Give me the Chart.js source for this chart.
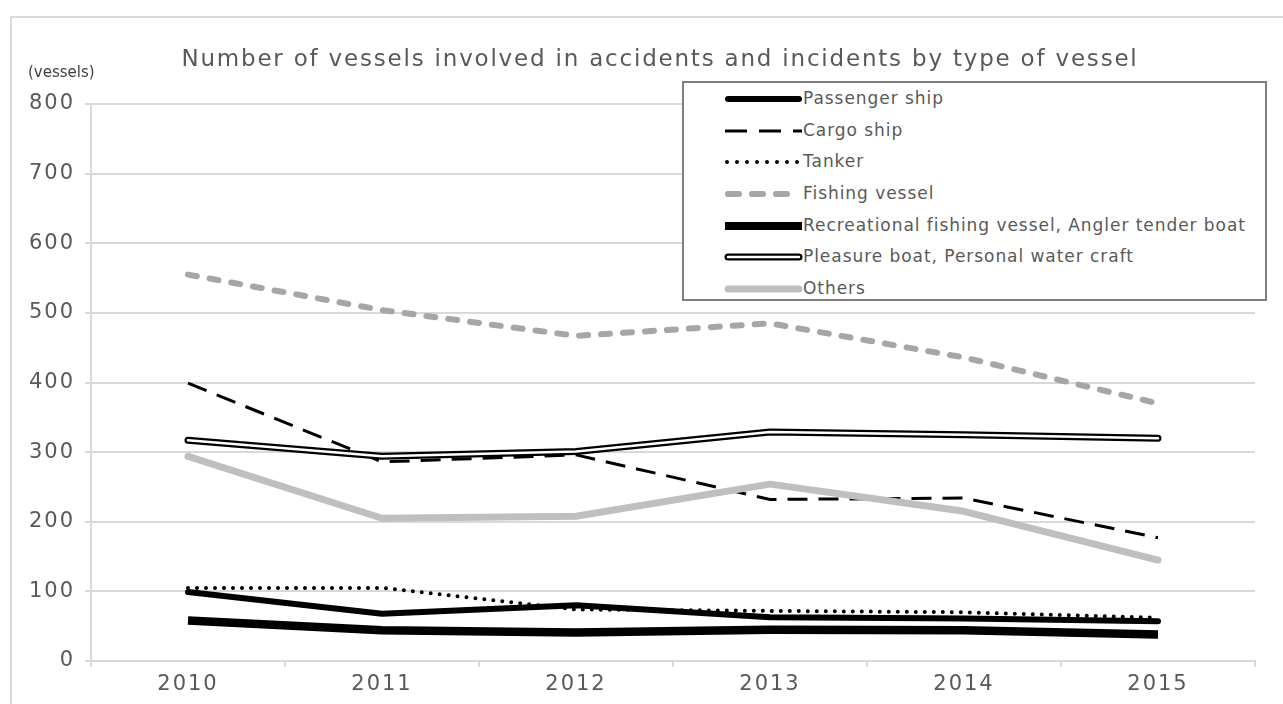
<!DOCTYPE html>
<html>
<head>
<meta charset="utf-8">
<script src="https://cdn.jsdelivr.net/npm/chart.js@4.4.1/dist/chart.umd.min.js"></script>
<style>
  html, body { margin: 0; padding: 0; background: #fff; }
  #wrap { position: relative; width: 1283px; height: 704px; overflow: hidden; font-family: "DejaVu Sans", sans-serif; }
  #frame { position: absolute; left: 10px; top: 16px; width: 1300px; height: 720px; border: 2px solid #d9d9d9; box-sizing: border-box; }
  #title { position: absolute; left: 0; width: 1320px; top: 45px; text-align: center; font-size: 23px; letter-spacing: 1.8px; color: #595959; white-space: nowrap; }
  #unit { position: absolute; left: 28px; top: 63px; font-size: 15px; color: #404040; white-space: nowrap; }
  #legend { position: absolute; left: 682px; top: 81px; width: 585px; height: 220px; border: 2px solid #7f7f7f; box-sizing: border-box; background: #fff; }
  .row { position: absolute; left: 0; height: 24px; }
  .row svg { position: absolute; left: 38px; top: 0; }
  .row span { position: absolute; left: 119px; top: 1px; font-size: 17px; letter-spacing: 0.95px; color: #595959; white-space: nowrap; }
  canvas { position: absolute; left: 0; top: 0; }
</style>
</head>
<body>
<div id="wrap">
  <div id="frame"></div>
  <canvas id="c" width="1283" height="704"></canvas>
  <div id="title">Number of vessels involved in accidents and incidents by type of vessel</div>
  <div id="unit">(vessels)</div>
  <div id="legend"></div>
</div>
<script>
const years = ["2010", "2011", "2012", "2013", "2014", "2015"];
const yTicks = [0, 100, 200, 300, 400, 500, 600, 700, 800];

const passengerShip   = [99, 68, 80, 63, 61, 57];
const cargoShip       = [399, 286, 296, 232, 234, 177];
const tanker          = [105, 105, 74, 72, 70, 62];
const fishingVessel   = [555, 504, 467, 485, 436, 370];
const recreational    = [58, 44, 41, 45, 44, 38];
const pleasureBoat    = [317, 294, 301, 329, 325, 320];
const others          = [294, 205, 208, 254, 215, 145];

const seriesNames = [
  "Passenger ship",
  "Cargo ship",
  "Tanker",
  "Fishing vessel",
  "Recreational fishing vessel, Angler tender boat",
  "Pleasure boat, Personal water craft",
  "Others"
];

const common = { pointRadius: 0, pointHoverRadius: 0, fill: false, tension: 0, borderJoinStyle: 'round' };

const datasets = [
  Object.assign({}, common, { label: seriesNames[0], data: passengerShip, borderColor: '#000', borderWidth: 6, borderCapStyle: 'round', order: 8 }),
  Object.assign({}, common, { label: seriesNames[1], data: cargoShip, borderColor: '#000', borderWidth: 3, borderDash: [20, 11], borderCapStyle: 'butt', borderJoinStyle: 'miter', order: 7 }),
  Object.assign({}, common, { label: seriesNames[2], data: tanker, borderColor: '#000', borderWidth: 4, borderDash: [0, 9], borderCapStyle: 'round', order: 6 }),
  Object.assign({}, common, { label: seriesNames[3], data: fishingVessel, borderColor: '#a6a6a6', borderWidth: 6, borderDash: [9, 13], borderCapStyle: 'round', order: 5 }),
  Object.assign({}, common, { label: seriesNames[4], data: recreational, borderColor: '#000', borderWidth: 8.5, borderCapStyle: 'butt', borderJoinStyle: 'miter', order: 4 }),
  Object.assign({}, common, { label: seriesNames[5], data: pleasureBoat, borderColor: '#000', borderWidth: 7, borderCapStyle: 'round', order: 3 }),
  Object.assign({}, common, { label: seriesNames[5] + " (inner)", data: pleasureBoat, borderColor: '#fff', borderWidth: 2.5, borderCapStyle: 'round', order: 2 }),
  Object.assign({}, common, { label: seriesNames[6], data: others, borderColor: '#bfbfbf', borderWidth: 7, borderCapStyle: 'round', order: 1 })
];

const FONT = "'DejaVu Sans', sans-serif";

const spacingPlugin = {
  id: 'spacing',
  beforeDraw(chart) { chart.ctx.letterSpacing = '2px'; },
  afterDraw(chart) { chart.ctx.letterSpacing = '0px'; }
};

new Chart(document.getElementById('c'), {
  type: 'line',
  data: { labels: years, datasets: datasets },
  plugins: [spacingPlugin],
  options: {
    responsive: false,
    animation: false,
    events: [],
    layout: { padding: { left: 0, right: 28, top: 104, bottom: 0 } },
    plugins: { legend: { display: false }, title: { display: false }, tooltip: { enabled: false } },
    scales: {
      x: {
        offset: true,
        grid: { offset: true, drawOnChartArea: false, drawTicks: true, tickLength: 6, color: '#d9d9d9', lineWidth: 2 },
        border: { display: true, color: '#d9d9d9', width: 2 },
        ticks: { color: '#595959', font: { family: FONT, size: 21 }, padding: 5, maxRotation: 0 },
        afterFit: s => { s.height = 43; }
      },
      y: {
        min: 0, max: 800,
        afterBuildTicks: s => { s.ticks = yTicks.map(v => ({ value: v })); },
        grid: { color: '#d9d9d9', lineWidth: 2, tickLength: 6 },
        border: { display: true, color: '#d9d9d9', width: 2 },
        ticks: { color: '#595959', font: { family: FONT, size: 21 }, padding: 10 },
        afterFit: s => { s.width = 91; }
      }
    }
  }
});

// HTML legend
const legendStyles = [
  '<line x1="6" y1="12" x2="77" y2="12" stroke="#000" stroke-width="6" stroke-linecap="round"/>',
  '<line x1="3" y1="12" x2="80" y2="12" stroke="#000" stroke-width="3" stroke-dasharray="22 12"/>',
  '<line x1="5" y1="12" x2="80" y2="12" stroke="#000" stroke-width="4" stroke-dasharray="0 10" stroke-linecap="round"/>',
  '<line x1="6" y1="12" x2="78" y2="12" stroke="#a6a6a6" stroke-width="6" stroke-dasharray="11 13" stroke-linecap="round"/>',
  '<line x1="3" y1="12" x2="80" y2="12" stroke="#000" stroke-width="8"/>',
  '<line x1="6" y1="12" x2="77" y2="12" stroke="#000" stroke-width="7" stroke-linecap="round"/><line x1="6" y1="12" x2="77" y2="12" stroke="#fff" stroke-width="2.5" stroke-linecap="round"/>',
  '<line x1="6" y1="12" x2="77" y2="12" stroke="#bfbfbf" stroke-width="7" stroke-linecap="round"/>'
];
const rowTops = [4, 36, 67, 99, 131, 162, 194];
const leg = document.getElementById('legend');
seriesNames.forEach((n, i) => {
  const r = document.createElement('div');
  r.className = 'row';
  r.style.top = rowTops[i] + 'px';
  r.innerHTML = '<svg width="84" height="24">' + legendStyles[i] + '</svg><span>' + n + '</span>';
  leg.appendChild(r);
});
</script>
</body>
</html>
